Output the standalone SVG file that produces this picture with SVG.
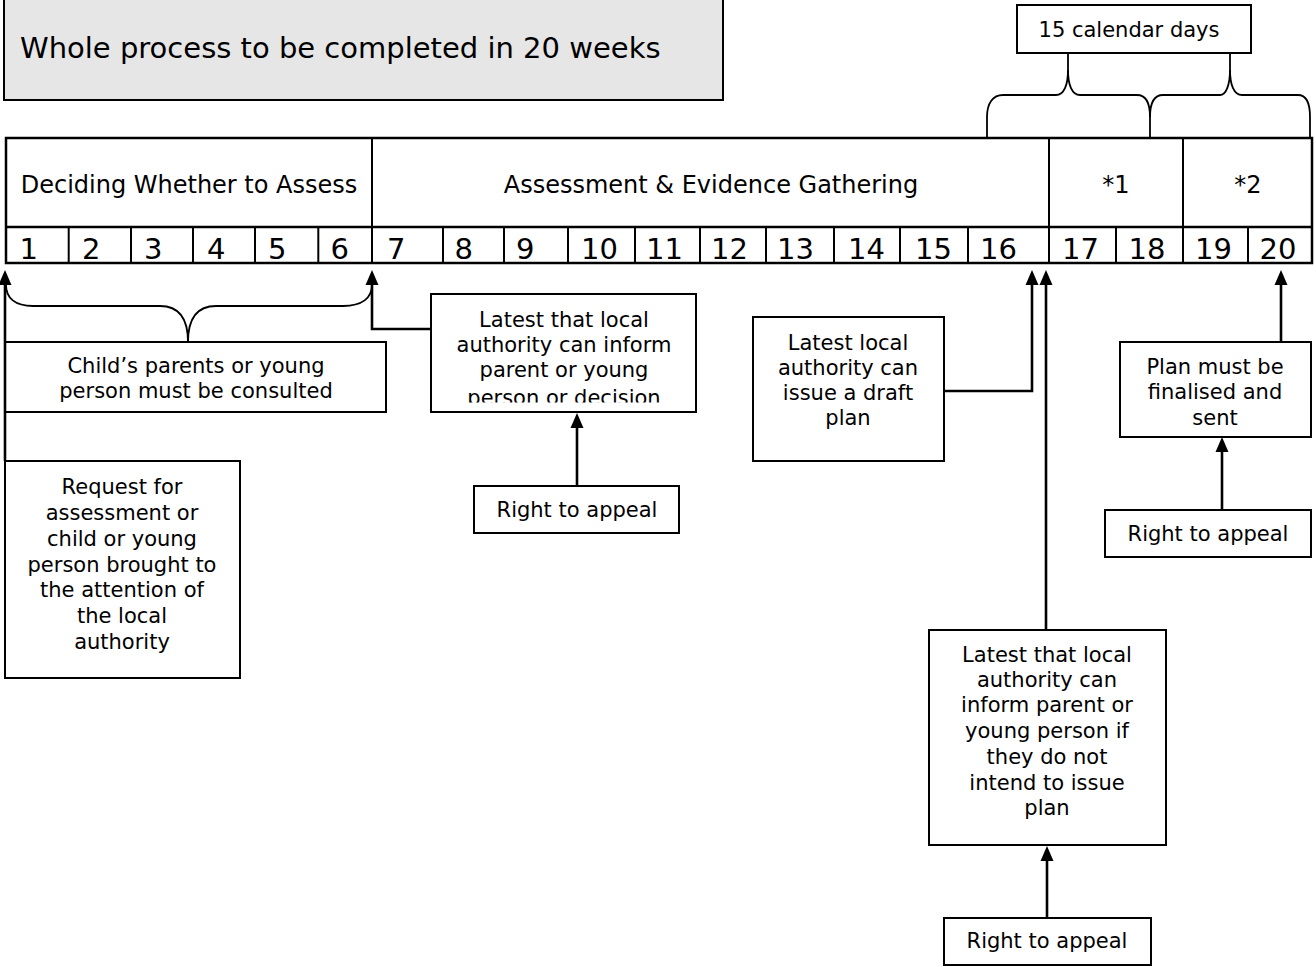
<svg xmlns="http://www.w3.org/2000/svg" width="1316" height="967" viewBox="0 0 1316 967">
<style>
text{font-family:"DejaVu Sans",Verdana,sans-serif;fill:#000}
.box{fill:#fff;stroke:#000;stroke-width:2}
.t21{font-size:21px;text-anchor:middle}
.hdr{font-size:24px;text-anchor:middle}
.num{font-size:29px}
.grid{stroke:#000;stroke-width:2.5;fill:none}
.thin{stroke:#000;stroke-width:2;fill:none}
.con{stroke:#000;stroke-width:2.6;fill:none}
.brace{stroke:#000;stroke-width:1.8;fill:none}
</style>
<defs>
<marker id="ah" markerUnits="userSpaceOnUse" markerWidth="16" markerHeight="13" refX="0" refY="6.5" orient="auto" overflow="visible">
<path d="M0,0 L15,6.5 L0,13 z" fill="#000"/>
</marker>
<clipPath id="clipLatest"><rect x="430" y="293" width="268" height="109.5"/></clipPath>
</defs>

<g id="title">
<rect x="4" y="-3" width="719" height="103" fill="#e6e6e6" stroke="#000" stroke-width="2"/>
<text x="20" y="58" style="font-size:29px">Whole process to be completed in 20 weeks</text>
</g>

<g id="timeline">
<rect x="6" y="138" width="1306" height="125" fill="#fff" stroke="#000" stroke-width="2.5"/>
<line class="grid" x1="6" y1="227" x2="1312" y2="227"/>
<line class="thin" x1="372" y1="138" x2="372" y2="227"/>
<line class="thin" x1="1049" y1="138" x2="1049" y2="227"/>
<line class="thin" x1="1183" y1="138" x2="1183" y2="227"/>
<g class="thin">
<line x1="68.7" y1="227" x2="68.7" y2="263"/>
<line x1="131" y1="227" x2="131" y2="263"/>
<line x1="193" y1="227" x2="193" y2="263"/>
<line x1="255" y1="227" x2="255" y2="263"/>
<line x1="318.3" y1="227" x2="318.3" y2="263"/>
<line x1="372" y1="227" x2="372" y2="263"/>
<line x1="443" y1="227" x2="443" y2="263"/>
<line x1="504" y1="227" x2="504" y2="263"/>
<line x1="568" y1="227" x2="568" y2="263"/>
<line x1="635" y1="227" x2="635" y2="263"/>
<line x1="700" y1="227" x2="700" y2="263"/>
<line x1="766" y1="227" x2="766" y2="263"/>
<line x1="834" y1="227" x2="834" y2="263"/>
<line x1="900" y1="227" x2="900" y2="263"/>
<line x1="968" y1="227" x2="968" y2="263"/>
<line x1="1049" y1="227" x2="1049" y2="263"/>
<line x1="1116" y1="227" x2="1116" y2="263"/>
<line x1="1183" y1="227" x2="1183" y2="263"/>
<line x1="1248" y1="227" x2="1248" y2="263"/>
</g>
<text class="hdr" x="189" y="193">Deciding Whether to Assess</text>
<text class="hdr" x="711" y="193">Assessment &amp; Evidence Gathering</text>
<text class="hdr" x="1116" y="193">*1</text>
<text class="hdr" x="1248" y="193">*2</text>
<g class="num">
<text x="19.5" y="259">1</text>
<text x="82" y="259">2</text>
<text x="144" y="259">3</text>
<text x="207" y="259">4</text>
<text x="268" y="259">5</text>
<text x="330.5" y="259">6</text>
<text x="387" y="259">7</text>
<text x="454.5" y="259">8</text>
<text x="516" y="259">9</text>
<text x="581" y="259">10</text>
<text x="646" y="259">11</text>
<text x="711" y="259">12</text>
<text x="777" y="259">13</text>
<text x="848" y="259">14</text>
<text x="915" y="259">15</text>
<text x="980" y="259">16</text>
<text x="1062" y="259">17</text>
<text x="1128.5" y="259">18</text>
<text x="1195" y="259">19</text>
<text x="1259.5" y="259">20</text>
</g>
</g>

<g id="days15">
<rect class="box" x="1017" y="5" width="234" height="48"/>
<text class="t21" x="1129" y="37">15 calendar days</text>
</g>

<g id="consulted">
<rect class="box" x="5" y="342" width="381" height="70"/>
<text class="t21" x="196" y="373">Child’s parents or young</text>
<text class="t21" x="196" y="398">person must be consulted</text>
</g>

<g id="request">
<rect class="box" x="5" y="461" width="235" height="217"/>
<text class="t21" x="122" y="494">Request for</text>
<text class="t21" x="122" y="520">assessment or</text>
<text class="t21" x="122" y="546">child or young</text>
<text class="t21" x="122" y="572">person brought to</text>
<text class="t21" x="122" y="597">the attention of</text>
<text class="t21" x="122" y="623">the local</text>
<text class="t21" x="122" y="649">authority</text>
</g>

<g id="decision">
<rect class="box" x="431" y="294" width="265" height="118"/>
<g clip-path="url(#clipLatest)">
<text class="t21" x="564" y="327">Latest that local</text>
<text class="t21" x="564" y="352">authority can inform</text>
<text class="t21" x="564" y="377">parent or young</text>
<text class="t21" x="564" y="405">person or decision</text>
</g>
</g>

<g id="appeal1">
<rect class="box" x="474" y="486" width="205" height="47"/>
<text class="t21" x="577" y="517">Right to appeal</text>
</g>

<g id="draft">
<rect class="box" x="753" y="317" width="191" height="144"/>
<text class="t21" x="848" y="350">Latest local</text>
<text class="t21" x="848" y="375">authority can</text>
<text class="t21" x="848" y="400">issue a draft</text>
<text class="t21" x="848" y="425">plan</text>
</g>

<g id="notissue">
<rect class="box" x="929" y="630" width="237" height="215"/>
<text class="t21" x="1047" y="662">Latest that local</text>
<text class="t21" x="1047" y="687">authority can</text>
<text class="t21" x="1047" y="712">inform parent or</text>
<text class="t21" x="1047" y="738">young person if</text>
<text class="t21" x="1047" y="764">they do not</text>
<text class="t21" x="1047" y="790">intend to issue</text>
<text class="t21" x="1047" y="815">plan</text>
</g>

<g id="appeal3">
<rect class="box" x="944" y="918" width="207" height="47"/>
<text class="t21" x="1047" y="948">Right to appeal</text>
</g>

<g id="finalised">
<rect class="box" x="1120" y="342" width="191" height="95"/>
<text class="t21" x="1215" y="374">Plan must be</text>
<text class="t21" x="1215" y="399">finalised and</text>
<text class="t21" x="1215" y="425">sent</text>
</g>

<g id="appeal2">
<rect class="box" x="1105" y="510" width="206" height="47"/>
<text class="t21" x="1208" y="541">Right to appeal</text>
</g>

<g id="connectors">
<path class="con" d="M5,461 L5,285" marker-end="url(#ah)"/>
<path class="con" d="M431,329 L372,329 L372,285" marker-end="url(#ah)"/>
<path class="con" d="M577,486 L577,428" marker-end="url(#ah)"/>
<path class="con" d="M944,391 L1032,391 L1032,285" marker-end="url(#ah)"/>
<path class="con" d="M1046,630 L1046,285" marker-end="url(#ah)"/>
<path class="con" d="M1047,918 L1047,861" marker-end="url(#ah)"/>
<path class="con" d="M1281,342 L1281,285" marker-end="url(#ah)"/>
<path class="con" d="M1222,510 L1222,452" marker-end="url(#ah)"/>
<path class="brace" d="M6,285 C6,298 15,306 33,306 L160,306 C178,306 188,318 188,342"/>
<path class="brace" d="M188,342 C188,318 198,306 216,306 L343,306 C362,306 372,298 372,285"/>
<path class="brace" d="M987,138 L987,117 C987,103 993,95 1003,95 L1056,95 C1064,95 1068,85 1068,70 L1068,53"/>
<path class="brace" d="M1068,70 C1068,85 1072,95 1080,95 L1137,95 C1146,95 1150,103 1150,117 L1150,138"/>
<path class="brace" d="M1150,117 C1150,103 1154,95 1163,95 L1220,95 C1226,95 1230,85 1230,70 L1230,53"/>
<path class="brace" d="M1230,70 C1230,85 1234,95 1242,95 L1298,95 C1306,95 1310,103 1310,117 L1310,138"/>
</g>
</svg>
